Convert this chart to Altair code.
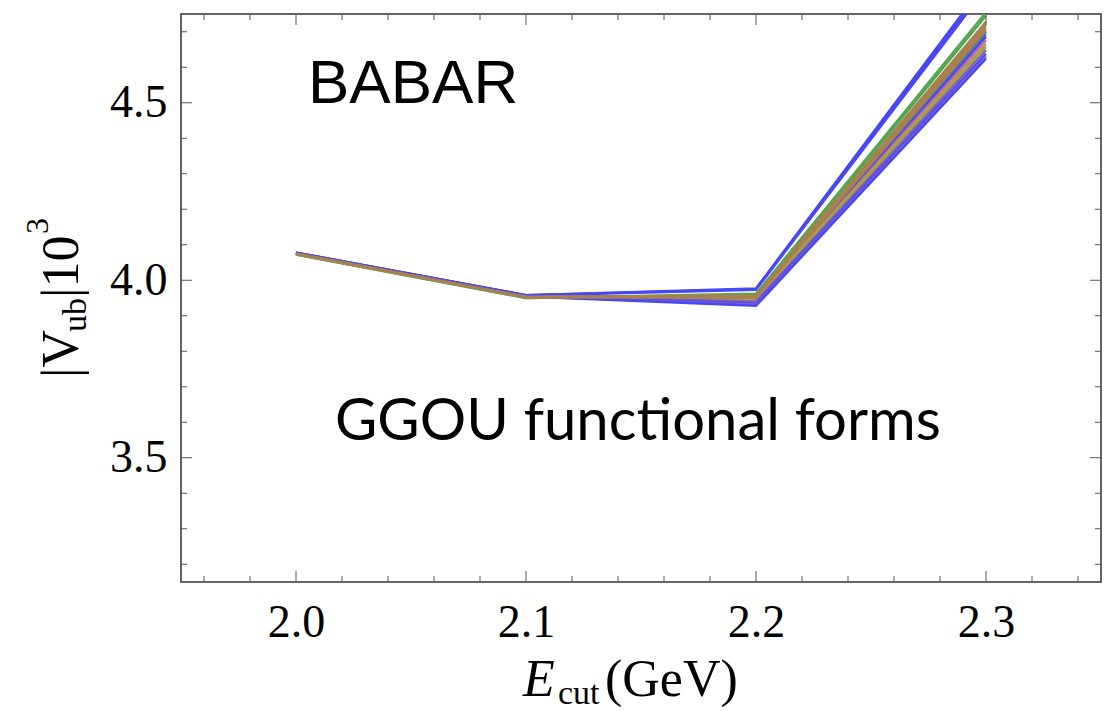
import altair as alt
import pandas as pd

# ---------------- data ----------------
ecut = [2.0, 2.1, 2.2, 2.3]

series_names = [
    "blueA", "blueB", "blueC", "greenA", "greenB", "steelA", "steelB", "blueD",
    "pinkA", "oliveA", "oliveB", "purpleA", "blueE", "purpleB", "blueF",
    "brownA", "brownB", "brownC", "brownD",
]
series_values = [
    [4.078, 3.958, 3.977, 4.840],
    [4.078, 3.958, 3.975, 4.830],
    [4.077, 3.957, 3.973, 4.822],
    [4.072, 3.950, 3.962, 4.755],
    [4.072, 3.950, 3.958, 4.745],
    [4.076, 3.955, 3.953, 4.700],
    [4.076, 3.955, 3.950, 4.693],
    [4.077, 3.956, 3.946, 4.686],
    [4.076, 3.955, 3.948, 4.676],
    [4.074, 3.953, 3.950, 4.665],
    [4.074, 3.952, 3.947, 4.657],
    [4.077, 3.955, 3.940, 4.648],
    [4.077, 3.955, 3.935, 4.638],
    [4.077, 3.954, 3.932, 4.630],
    [4.078, 3.954, 3.928, 4.624],
    [4.075, 3.953, 3.957, 4.728],
    [4.075, 3.953, 3.955, 4.720],
    [4.075, 3.952, 3.953, 4.712],
    [4.074, 3.952, 3.951, 4.705],
]
series_colors = [
    "#4747f5", "#4747f5", "#4747f5", "#55a651", "#55a651", "#5272b4", "#5272b4",
    "#4747f5", "#c462a2", "#a9a043", "#a9a043", "#7d5fc6", "#4747f5", "#7d5fc6",
    "#4747f5", "#a8814e", "#a8814e", "#a8814e", "#a8814e",
]

x_major = [2.0, 2.1, 2.2, 2.3]
x_minor = [1.96, 1.98, 2.02, 2.04, 2.06, 2.08, 2.12, 2.14, 2.16, 2.18,
           2.22, 2.24, 2.26, 2.28, 2.32, 2.34]
y_major = [3.5, 4.0, 4.5]
y_minor = [3.2, 3.3, 3.4, 3.6, 3.7, 3.8, 3.9, 4.1, 4.2, 4.3, 4.4, 4.6, 4.7]

x_domain = [1.95, 2.35]
y_domain = [3.15, 4.75]

W, H = 920, 568
SERIF = "Liberation Serif"

rows = []
for name, vals in zip(series_names, series_values):
    for e, v in zip(ecut, vals):
        rows.append({"series": name, "ecut": e, "v": v})
df = pd.DataFrame(rows)

xs = alt.Scale(domain=x_domain, nice=False, zero=False)
ys = alt.Scale(domain=y_domain, nice=False, zero=False)

lines = alt.Chart(df).mark_line(strokeWidth=2.4, clip=True).encode(
    x=alt.X("ecut:Q", scale=xs,
            axis=alt.Axis(values=x_major, format=".1f", tickSize=0, domain=False,
                          grid=False, labelFont=SERIF, labelFontSize=46,
                          labelColor="black", labelPadding=18, title="")),
    y=alt.Y("v:Q", scale=ys,
            axis=alt.Axis(values=y_major, format=".1f", tickSize=0, domain=False,
                          grid=False, labelFont=SERIF, labelFontSize=46,
                          labelColor="black", labelPadding=14, title="")),
    color=alt.Color("series:N", scale=alt.Scale(domain=series_names, range=series_colors),
                    legend=None),
    detail="series:N",
)

TICK = "#555555"


def xticks(vals, length):
    d = pd.DataFrame({"t": vals})
    bottom = alt.Chart(d).mark_rule(color=TICK, strokeWidth=1).encode(
        x=alt.X("t:Q", scale=xs), y=alt.value(H), y2=alt.value(H - length))
    top = alt.Chart(d).mark_rule(color=TICK, strokeWidth=1).encode(
        x=alt.X("t:Q", scale=xs), y=alt.value(0), y2=alt.value(length))
    return [bottom, top]


def yticks(vals, length):
    d = pd.DataFrame({"t": vals})
    left = alt.Chart(d).mark_rule(color=TICK, strokeWidth=1).encode(
        y=alt.Y("t:Q", scale=ys), x=alt.value(0), x2=alt.value(length))
    right = alt.Chart(d).mark_rule(color=TICK, strokeWidth=1).encode(
        y=alt.Y("t:Q", scale=ys), x=alt.value(W), x2=alt.value(W - length))
    return [left, right]


def label(text, x, y, size, font, style="normal", angle=0, align="left"):
    d = pd.DataFrame({"t": [text]})
    return alt.Chart(d).mark_text(
        font=font, fontSize=size, fontStyle=style, angle=angle, align=align,
        baseline="alphabetic", color="black",
    ).encode(x=alt.value(x), y=alt.value(y), text="t:N")


texts = [
    label("BABAR", 127, 89, 62, "Liberation Sans"),
    label("GGOU functional forms", 154, 426, 58, "Lato"),
    # x-axis title  E_cut(GeV)
    label("E", 342, 682, 52, SERIF, style="italic"),
    label("cut", 377, 690, 34, SERIF),
    label("(GeV)", 424, 682, 52, SERIF),
    # y-axis title |V_ub| 10^3 (rotated)
    label("|V", -103, 364, 52, SERIF, angle=270),
    label("ub", -95, 318, 34, SERIF, angle=270),
    label("|10", -103, 284, 52, SERIF, angle=270),
    label("3", -133, 220, 32, SERIF, angle=270),
]

layers = [lines] + xticks(x_major, 11) + xticks(x_minor, 6) + yticks(y_major, 11) + yticks(y_minor, 6) + texts

chart = alt.layer(*layers).properties(
    width=W, height=H,
    autosize=alt.AutoSizeParams(type="none"),
    padding={"left": 181, "top": 14, "right": 12, "bottom": 129},
    background="white",
).configure_view(stroke="#333333", strokeWidth=1.5)

chart.save("out.html", embed_options={"renderer": "svg", "actions": False})
